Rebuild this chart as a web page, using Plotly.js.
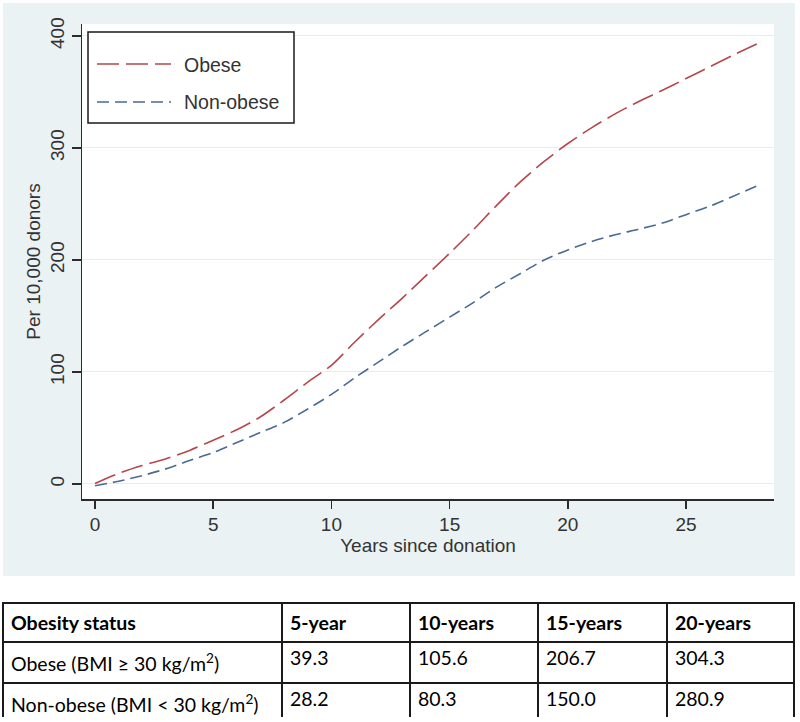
<!DOCTYPE html>
<html>
<head>
<meta charset="utf-8">
<script src="https://cdn.plot.ly/plotly-3.0.1.min.js"></script>
<style>html,body{margin:0;padding:0;background:#fff;}#chart{width:800px;height:722px;}</style>
</head>
<body>
<div id="chart"></div>
<script>
// ---- data ----
const years = [0,1,2,3,4,5,6,7,8,9,10,11,12,13,14,15,16,17,18,19,20,21,22,23,24,25,26,27,28.2];
const obese = [0.5,9.5,16.5,22.5,30,39,48.5,60,75,91,106,127,147,166,186,206,227,249,270,288,304,318,330.5,341.5,351.5,362,372.5,383,395];
const nonObese = [-1.5,2.5,7.5,13.5,21,28,37,46,55,67,80,95,109,123,136,149,162,176,188,200,209,216.5,222.5,227.5,233,240.5,248,257,268];
const seriesNames = ['Obese','Non-obese'];
const xTicks = [0,5,10,15,20,25];
const yTicks = [0,100,200,300,400];

const tableHeader = ['Obesity status','5-year','10-years','15-years','20-years'];
const tableRowLabels = ['Obese (BMI \u2265 30 kg/m<sup>2</sup>)','Non-obese (BMI &lt; 30 kg/m<sup>2</sup>)'];
const table5 = [39.3, 28.2];
const table10 = [105.6, 80.3];
const table15 = [206.7, 150.0];
const table20 = [304.3, 280.9];

// ---- styling ----
const W = 800, H = 722;
const red = '#b5474c', blue = '#4a6a94';
const bg = '#eaf2f3', grid = '#e4edef', axisCol = '#2b2b2b';
const font = 'Liberation Sans, Arial, sans-serif';
const px = v => v / W, py = v => 1 - v / H;

const fmt = a => a.map(v => v.toFixed(1));

const traces = [
  {x: years, y: obese, name: seriesNames[0], type: 'scatter', mode: 'lines',
   line: {color: red, width: 1.6, dash: '22px,7px', shape: 'spline', smoothing: 0.8}, showlegend: false},
  {x: years, y: nonObese, name: seriesNames[1], type: 'scatter', mode: 'lines',
   line: {color: blue, width: 1.6, dash: '12px,6px', shape: 'spline', smoothing: 0.8}, showlegend: false},
  {type: 'table',
   domain: {x: [px(3), px(794)], y: [5 / H, 119 / H]},
   columnwidth: [279, 128, 128, 129, 127],
   header: {values: tableHeader.map(h => '<b>' + h + '</b>'), align: 'left', height: 37,
            fill: {color: '#ffffff'}, line: {color: '#1a1a1a', width: 1.5},
            font: {family: 'Lato, sans-serif', size: 19.5, color: '#000'}},
   cells: {values: [tableRowLabels, fmt(table5), fmt(table10), fmt(table15), fmt(table20)],
           align: 'left', height: 38.5,
           fill: {color: '#ffffff'}, line: {color: '#1a1a1a', width: 1.5},
           font: {family: 'Lato, sans-serif', size: 19.5, color: '#000'}}}
];

const legendSample = (y, color, dash) => ({type: 'line', xref: 'paper', yref: 'paper',
  x0: px(97), x1: px(171), y0: py(y), y1: py(y), line: {color: color, width: 1.6, dash: dash}});

const layout = {
  width: W, height: H,
  margin: {l: 0, r: 0, t: 0, b: 0},
  paper_bgcolor: '#ffffff', plot_bgcolor: '#ffffff',
  font: {family: font, color: '#333', size: 19},
  showlegend: false,
  xaxis: {domain: [px(82), px(774)], range: [-0.55, 28.72], tickvals: xTicks,
          showgrid: false, zeroline: false, showline: true, linecolor: axisCol, linewidth: 1.5,
          ticks: 'outside', ticklen: 8, tickcolor: axisCol, tickwidth: 1.5,
          tickfont: {size: 19, color: '#333'},
          title: {text: 'Years since donation', font: {size: 19, color: '#333'}, standoff: 0}},
  yaxis: {domain: [1 - 499 / H, 1 - 24 / H], range: [-13.4, 410.7], tickvals: yTicks,
          tickangle: -90,
          showgrid: true, gridcolor: grid, gridwidth: 1, zeroline: false,
          showline: true, linecolor: axisCol, linewidth: 1.5,
          ticks: 'outside', ticklen: 9, tickcolor: axisCol, tickwidth: 1.5,
          tickfont: {size: 19, color: '#333'},
          title: {text: 'Per 10,000 donors', font: {size: 19, color: '#333'}, standoff: 1}},
  shapes: [
    {type: 'rect', xref: 'paper', yref: 'paper', x0: px(3), x1: px(795), y0: py(576), y1: py(3),
     fillcolor: bg, line: {width: 0}, layer: 'below'},
    {type: 'rect', xref: 'x domain', yref: 'y domain', x0: 0, x1: 1, y0: 0, y1: 1,
     fillcolor: '#ffffff', line: {width: 0}, layer: 'below'},
    {type: 'rect', xref: 'paper', yref: 'paper', x0: px(88), x1: px(294), y0: py(123), y1: py(32),
     fillcolor: '#ffffff', line: {color: '#1a1a1a', width: 1.5}, layer: 'above'},
    legendSample(64, red, '22px,7px'),
    legendSample(102, blue, '12px,6px')
  ],
  annotations: [
    {xref: 'paper', yref: 'paper', x: px(182), y: py(65), xanchor: 'left', yanchor: 'middle',
     text: seriesNames[0], showarrow: false, font: {size: 19.5, color: '#333'}},
    {xref: 'paper', yref: 'paper', x: px(182), y: py(102), xanchor: 'left', yanchor: 'middle',
     text: seriesNames[1], showarrow: false, font: {size: 19.5, color: '#333'}}
  ]
};

Plotly.newPlot('chart', traces, layout, {staticPlot: true, displayModeBar: false});
</script>
</body>
</html>
